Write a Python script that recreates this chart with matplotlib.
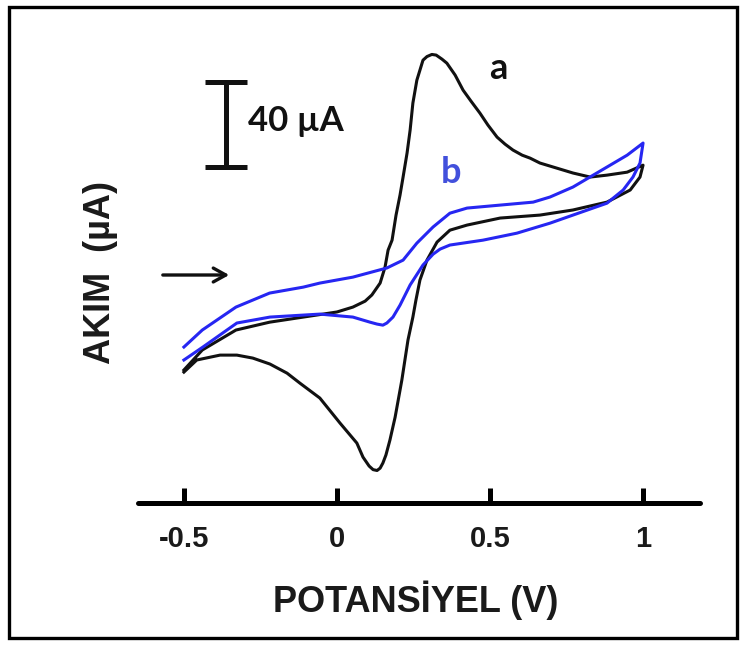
import matplotlib
matplotlib.use("Agg")
import matplotlib.pyplot as plt
from matplotlib.patches import Rectangle

# potansiyel (V) / akim (uA) degerleri
a_ileri_v = [-0.50, -0.44, -0.33, -0.22, -0.11, 0.00, 0.052, 0.092, 0.114, 0.141, 0.157,
             0.167, 0.180, 0.193, 0.206, 0.216, 0.229, 0.239, 0.248, 0.261, 0.281, 0.294,
             0.310, 0.324, 0.343, 0.359, 0.386, 0.412, 0.438, 0.467, 0.493, 0.523, 0.549,
             0.575, 0.605, 0.631, 0.663, 0.771, 0.827, 0.882, 0.948, 1.000]
a_ileri_i = [-32.9, -23.5, -14.1, -10.4, -8.0, -5.6, -3.3, -0.5, 2.4, 8.0, 15.5,
             23.5, 28.2, 40.0, 49.4, 57.9, 69.2, 80.0, 92.7, 103.5, 112.9, 114.6,
             115.6, 115.3, 113.4, 111.5, 105.9, 98.8, 93.6, 88.0, 82.4, 76.7, 73.4,
             70.6, 68.2, 66.8, 64.5, 59.8, 57.9, 58.8, 60.2, 63.5]

a_geri_v = [1.000, 0.990, 0.958, 0.882, 0.771, 0.663, 0.533, 0.425, 0.369, 0.327, 0.294,
            0.271, 0.258, 0.248, 0.232, 0.212, 0.206, 0.190, 0.173, 0.160, 0.150, 0.141,
            0.131, 0.118, 0.105, 0.085, 0.065, 0.010, -0.056, -0.121, -0.163, -0.219,
            -0.275, -0.327, -0.382, -0.458, -0.50]
a_geri_i = [63.5, 57.9, 51.8, 46.1, 42.4, 40.0, 38.6, 35.3, 32.9, 27.3, 18.8,
            9.4, 0.0, -8.0, -18.8, -37.6, -42.4, -55.1, -65.9, -72.9, -76.7, -79.1,
            -80.2, -79.8, -78.1, -73.9, -67.3, -57.9, -46.1, -39.1, -34.4, -30.1,
            -27.3, -25.9, -25.9, -28.2, -33.9]

b_ileri_v = [-0.50, -0.44, -0.33, -0.22, -0.11, -0.056, 0.052, 0.163, 0.216, 0.261, 0.314,
             0.369, 0.425, 0.533, 0.641, 0.696, 0.771, 0.882, 0.948, 1.000]
b_ileri_i = [-22.1, -14.1, -3.3, 3.3, 6.1, 8.0, 10.8, 15.1, 18.8, 26.8, 34.4,
             40.9, 43.3, 44.7, 46.1, 48.5, 53.2, 62.6, 68.2, 73.9]

b_geri_v = [1.000, 0.990, 0.967, 0.935, 0.882, 0.771, 0.696, 0.588, 0.477, 0.369, 0.337,
            0.314, 0.281, 0.239, 0.206, 0.183, 0.163, 0.150, 0.131, 0.108, 0.052,
            -0.056, -0.219, -0.327, -0.438, -0.50]
b_geri_i = [73.9, 64.5, 57.9, 51.8, 45.6, 40.0, 36.2, 31.5, 28.2, 25.9, 24.0,
            21.6, 16.5, 7.1, -2.4, -8.0, -10.8, -11.8, -11.3, -10.4, -8.0,
            -6.6, -8.0, -10.8, -22.1, -28.2]

x_ticks = [-0.5, 0, 0.5, 1]
x_tick_labels = ["-0.5", "0", "0.5", "1"]

olcek_v = -0.363
olcek_alt = 62.6
olcek_boy = 40

siyah = "#111111"
mavi = "#2626f2"

fig = plt.figure(figsize=(7.44, 6.45), dpi=100)
ax = fig.add_axes([138 / 744, 1 - 503 / 645, 562 / 744, 463 / 645])

ax.plot(a_ileri_v + a_geri_v, a_ileri_i + a_geri_i, color=siyah, lw=2.2,
        solid_joinstyle="round")
ax.plot(b_ileri_v + b_geri_v, b_ileri_i + b_geri_i, color=mavi, lw=2.2,
        solid_joinstyle="round")

ax.set_xlim(-0.650, 1.186)
ax.set_ylim(-95.5, 122.4)

for s in ["left", "top", "right"]:
    ax.spines[s].set_visible(False)
ax.spines["bottom"].set_linewidth(3.6)
ax.spines["bottom"].set_capstyle("round")
ax.set_yticks([])
ax.set_xticks(x_ticks)
ax.set_xticklabels(x_tick_labels)
ax.tick_params(axis="x", direction="in", length=11, width=3.6, pad=16,
               labelsize=21, labelcolor="#1a1a1a")
for t in ax.get_xticklabels():
    t.set_fontfamily("Liberation Sans")
    t.set_fontweight("bold")

# olcek cubugu (40 uA)
ax.vlines(olcek_v, olcek_alt, olcek_alt + olcek_boy, color=siyah, lw=3.6)
ax.hlines([olcek_alt, olcek_alt + olcek_boy], olcek_v - 0.069, olcek_v + 0.069,
          color=siyah, lw=3.6)
ax.text(-0.291, olcek_alt + olcek_boy / 2 + 1.5, "40 µA", fontsize=25, fontweight="bold",
        family="Lato", color=siyah, ha="left", va="center")

ax.text(0.526, 109.2, "a", fontsize=26, fontweight="bold", family="Lato",
        color=siyah, ha="center", va="center")
ax.text(0.372, 60.0, "b", fontsize=26, fontweight="bold", family="Lato",
        color="#4250dc", ha="center", va="center")

ax.annotate("", xy=(-0.343, 11.8), xytext=(-0.578, 11.8),
            arrowprops=dict(arrowstyle="->,head_length=0.9,head_width=0.5",
                            color=siyah, lw=2.4))

fig.text(416 / 744, 1 - 600 / 645, "POTANSİYEL (V)", fontsize=26, fontweight="bold",
         family="Liberation Sans", color="#1a1a1a", ha="center", va="center")
fig.text(100 / 744, 1 - 272 / 645, "AKIM  (µA)", fontsize=26, fontweight="bold",
         family="Liberation Sans", color="#1a1a1a", ha="center", va="center",
         rotation=90)

fig.patches.append(Rectangle((9 / 744, 7 / 645), 728 / 744, 631 / 645,
                             transform=fig.transFigure, fill=False,
                             edgecolor="black", lw=2.4))

fig.savefig("out.png", dpi=100)
